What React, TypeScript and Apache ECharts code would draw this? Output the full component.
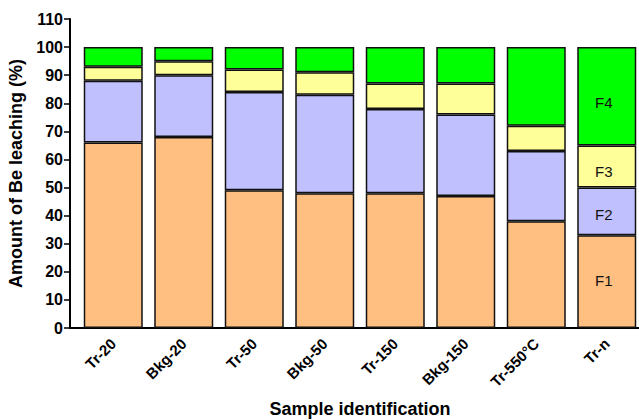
import React, { useEffect, useRef } from "react";
import * as echarts from "echarts";

const categories = ["Tr-20", "Bkg-20", "Tr-50", "Bkg-50", "Tr-150", "Bkg-150", "Tr-550°C", "Tr-n"];
const f1 = [66, 68, 49, 48, 48, 47, 38, 33];
const f2 = [22, 22, 35, 35, 30, 29, 25, 17];
const f3 = [5, 5, 8, 8, 9, 11, 9, 15];
const f4 = [7, 5, 8, 9, 13, 13, 28, 35];
const seriesNames = ["F1", "F2", "F3", "F4"];
const colors = ["#FFBF80", "#C0C0FF", "#FFFF99", "#00FF00"];
const labelDy = [-1, 3, 5, 6];

export default function App() {
  const ref = useRef<HTMLDivElement>(null);
  useEffect(() => {
    if (!ref.current) return;
    const chart = echarts.init(ref.current, null, { renderer: "svg" });
    const font = "'Liberation Sans', Arial, sans-serif";
    const data = [f1, f2, f3, f4];
    chart.setOption({
      animation: false,
      textStyle: { fontFamily: font },
      grid: { left: 78, right: -3, top: 19, bottom: 92, containLabel: false, outerBoundsMode: "none" },
      xAxis: {
        type: "category",
        data: categories,
        name: "Sample identification",
        nameLocation: "middle",
        nameGap: 72,
        nameTextStyle: { fontSize: 18, fontWeight: "bold", color: "#000", fontFamily: font },
        axisLine: { lineStyle: { color: "#000", width: 2 } },
        axisTick: { alignWithLabel: true, length: 5, lineStyle: { color: "#000", width: 1.5 } },
        axisLabel: { rotate: 45, fontSize: 15, fontWeight: "bold", color: "#000", margin: 13, fontFamily: font },
      },
      yAxis: {
        type: "value",
        min: 0,
        max: 110,
        interval: 10,
        offset: 8,
        name: "Amount of Be leaching (%)",
        nameLocation: "middle",
        nameGap: 42,
        nameTextStyle: { fontSize: 18, fontWeight: "bold", color: "#000", fontFamily: font },
        axisLine: { show: true, lineStyle: { color: "#000", width: 2 } },
        axisTick: { show: true, length: 6, lineStyle: { color: "#000", width: 1.5 } },
        axisLabel: { fontSize: 16, fontWeight: "bold", color: "#000", margin: 7, fontFamily: font },
        splitLine: { show: false },
      },
      graphic: [
        { type: "line", shape: { x1: 69, y1: 328, x2: 79, y2: 328 }, style: { stroke: "#000", lineWidth: 2 } },
      ],
      series: data.map((d, i) => ({
        type: "bar",
        name: seriesNames[i],
        stack: "total",
        data: d,
        barWidth: 59,
        itemStyle: { color: colors[i], borderColor: "#111", borderWidth: 1.5 },
        label: {
          show: true,
          position: "inside",
          offset: [-3, labelDy[i]],
          fontSize: 15,
          color: "#111",
          fontFamily: font,
          formatter: (p: any) => (p.dataIndex === categories.length - 1 ? seriesNames[i] : ""),
        },
      })),
    });
    return () => chart.dispose();
  }, []);
  return <div ref={ref} style={{ position: "fixed", left: 0, top: 0, width: 639, height: 420, background: "#fff" }} />;
}
